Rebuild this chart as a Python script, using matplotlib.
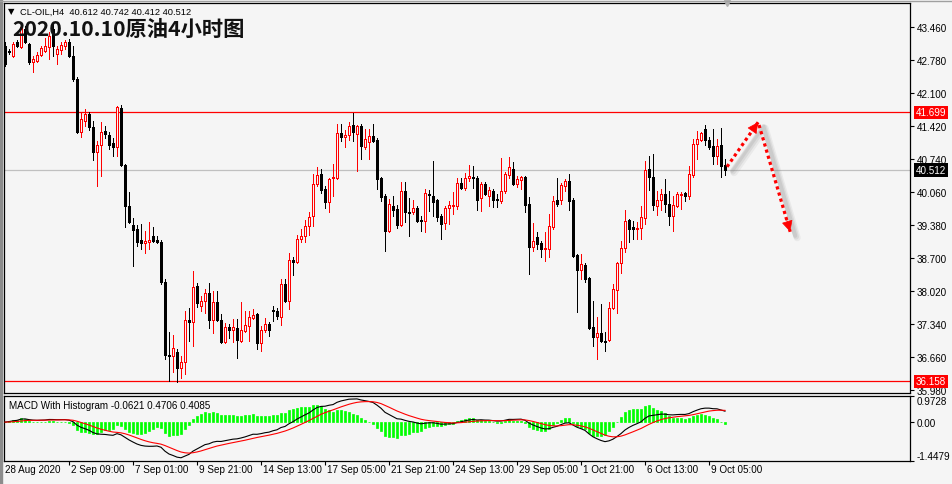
import matplotlib
matplotlib.use("Agg")
import matplotlib.pyplot as plt
import matplotlib.transforms as mtransforms
from matplotlib.patches import Rectangle
import numpy as np
import pandas as pd

# ---------------- data ----------------
opens = [43.07,42.97,42.86,43.15,43.05,43.42,43.11,42.74,42.76,42.88,42.97,43.05,43.42,42.90,42.99,43.07,43.15,42.86,42.39,41.30,
         41.52,41.67,41.40,40.89,41.03,41.32,41.23,41.07,40.99,41.79,40.62,39.77,39.38,39.30,39.07,39.01,39.03,39.15,39.07,39.03,
         38.21,36.70,36.68,36.76,36.43,36.56,37.42,37.38,38.12,37.71,37.81,37.98,37.42,37.79,37.42,36.97,37.28,37.22,37.26,36.99,
         37.20,37.30,37.46,37.55,36.95,37.22,37.34,37.63,37.61,37.48,38.16,37.81,38.66,38.62,39.09,39.15,39.36,39.57,40.23,40.43,
         40.12,39.85,40.35,40.35,41.28,41.19,41.23,41.44,41.26,41.42,40.99,41.09,41.21,41.13,40.35,39.98,39.26,39.77,39.71,39.38,
         40.08,39.65,39.65,39.73,39.48,39.46,40.02,39.98,39.90,39.57,39.42,39.73,39.77,39.77,40.25,40.14,40.35,40.37,40.35,39.94,
         40.23,39.98,40.08,39.92,39.87,40.08,40.41,40.53,40.23,40.31,40.37,39.81,38.93,39.13,39.01,38.89,38.89,39.34,39.90,39.90,
         40.18,40.29,39.90,38.76,38.45,38.56,38.29,37.28,37.07,37.16,36.99,37.01,37.67,38.04,38.60,38.91,39.48,39.34,39.30,39.32,
         39.52,40.53,40.37,39.77,39.90,40.02,39.81,39.57,39.77,40.00,40.04,39.98,40.41,41.05,41.13,41.36,41.13,41.01,40.80,41.03,
         40.612]
highs = [43.15,43.01,43.15,43.19,43.54,43.48,43.13,42.86,42.95,43.07,43.23,43.36,43.56,43.07,43.15,43.19,43.21,43.07,42.43,41.71,
         41.77,41.71,41.52,41.11,41.50,41.42,41.30,41.17,41.83,41.85,40.64,40.06,39.52,39.38,39.40,39.26,39.44,39.34,39.15,39.07,
         38.27,37.18,37.11,36.83,36.68,37.61,37.67,38.43,38.19,37.92,38.06,38.19,38.02,38.02,37.55,37.36,37.34,37.44,37.44,37.79,
         37.61,37.61,37.65,37.57,37.30,37.46,37.38,37.71,37.67,38.27,38.27,38.80,38.72,39.17,39.30,39.48,39.65,40.43,40.58,40.53,
         40.18,40.35,40.64,41.46,41.46,41.34,41.50,41.69,41.44,41.46,41.36,41.36,41.46,41.17,40.37,40.02,39.92,39.98,39.79,40.27,
         40.27,39.94,39.90,39.77,39.57,40.12,40.10,40.70,39.92,39.61,39.77,39.87,40.06,40.35,40.35,40.45,40.62,40.60,40.39,40.27,
         40.27,40.16,40.12,40.02,40.76,40.47,40.78,40.68,40.39,40.39,40.39,39.96,39.42,39.24,39.05,39.24,39.61,39.98,40.35,40.25,
         40.33,40.43,39.94,38.78,38.78,38.60,38.31,37.81,37.48,37.75,37.18,37.79,38.16,38.62,39.05,39.69,39.50,39.46,39.44,39.77,
         40.70,40.80,40.84,40.08,40.12,40.33,40.08,39.98,40.06,40.06,40.06,40.60,41.15,41.32,41.30,41.44,41.19,41.36,41.15,41.38,
         40.742]
lows = [42.66,42.90,42.84,43.05,43.03,43.13,42.70,42.53,42.74,42.86,42.95,42.80,42.86,42.70,42.90,43.01,42.84,42.35,41.28,41.19,
        41.42,41.34,40.72,40.18,40.39,41.17,40.95,40.80,40.80,40.60,39.34,39.42,38.54,38.95,38.89,38.80,38.89,39.03,39.01,38.16,
        36.62,36.16,36.35,36.15,36.23,36.31,36.99,36.89,37.69,37.61,37.57,37.26,37.16,37.40,36.95,36.95,37.05,36.97,36.64,36.97,
        37.18,36.99,37.44,36.83,36.78,37.18,37.09,37.40,37.44,37.32,37.79,37.65,38.35,38.60,39.03,39.03,39.17,39.36,40.18,40.04,
        39.73,39.65,39.98,40.33,41.11,40.99,41.13,41.11,40.49,40.74,40.95,40.74,41.09,40.12,39.87,38.84,39.24,39.57,39.32,39.36,
        39.44,39.15,39.61,39.44,39.26,39.24,39.67,39.57,39.46,39.09,39.30,39.40,39.61,39.71,40.12,40.10,40.29,40.14,39.69,39.67,
        40.00,39.77,39.75,39.75,39.83,40.04,40.35,40.21,40.16,40.12,39.65,38.37,38.84,38.89,38.72,38.64,38.72,39.30,39.77,39.81,
        40.08,39.69,38.72,37.59,38.27,38.21,37.24,36.89,36.62,36.97,36.78,36.99,37.65,37.57,38.39,38.82,39.03,39.09,39.09,39.09,
        39.40,40.10,39.69,39.59,39.69,39.65,39.38,39.26,39.75,39.71,39.87,39.92,40.37,40.74,41.11,41.03,40.95,40.64,40.64,40.37,
        40.412]
closes = [42.70,42.95,43.11,43.07,43.46,43.15,42.74,42.80,42.88,43.03,43.07,43.27,43.07,43.01,43.09,43.15,42.86,42.39,41.30,41.56,
          41.67,41.40,40.89,41.03,41.30,41.26,41.03,40.99,41.81,40.62,39.77,39.44,39.28,39.03,39.01,39.05,39.07,39.05,39.03,38.21,
          36.70,36.68,36.85,36.43,36.56,37.42,37.38,38.10,37.77,37.81,37.98,37.42,37.79,37.42,36.97,37.28,37.22,37.28,37.01,37.22,
          37.32,37.48,37.53,36.95,37.22,37.34,37.22,37.61,37.50,38.16,37.81,38.66,38.62,39.09,39.15,39.36,39.55,40.23,40.41,40.10,
          39.85,40.33,40.37,41.28,41.19,41.23,41.42,41.30,41.42,41.01,41.15,41.21,41.11,40.33,39.96,39.26,39.81,39.69,39.38,40.08,
          39.65,39.63,39.73,39.46,39.46,40.04,40.00,39.85,39.55,39.40,39.73,39.79,39.79,40.25,40.14,40.35,40.39,40.35,39.90,40.23,
          40.02,40.10,39.90,39.90,40.08,40.43,40.58,40.23,40.33,40.37,39.79,38.93,39.05,38.99,38.89,38.91,39.36,39.87,39.81,40.21,
          40.29,39.87,38.74,38.45,38.58,38.27,37.26,37.07,37.16,36.99,36.97,37.67,38.06,38.60,38.91,39.46,39.30,39.30,39.32,39.55,
          40.51,40.37,39.79,39.90,40.02,39.81,39.57,39.79,40.02,40.02,39.98,40.43,41.05,41.15,41.28,41.13,40.99,40.80,41.01,40.60,
          40.512]

price_ticks = [43.460, 42.780, 42.100, 41.420, 40.740, 40.060, 39.380, 38.700, 38.020, 37.340, 36.660, 35.980]
time_tick_bars = [0, 16, 32, 48, 64, 80, 96, 112, 128, 144, 160, 176]
time_labels = ["28 Aug 2020", "2 Sep 09:00", "7 Sep 01:00", "9 Sep 21:00", "14 Sep 13:00", "17 Sep 05:00",
               "21 Sep 21:00", "24 Sep 13:00", "29 Sep 05:00", "1 Oct 21:00", "6 Oct 13:00", "9 Oct 05:00"]
resistance = 41.699
support = 36.158
last_price = 40.512
macd_range = [-1.4479, 0.9728]
hist_scale = 2.0
macd_label = "MACD With Histogram -0.0621 0.4706 0.4085"
header = "CL-OIL,H4  40.612 40.742 40.412 40.512"
title = "2020.10.10原油4小时图"
# forecast arrow path: (bar, price)
arrow_bars = [180.5, 188.3, 196.3]
arrow_prices = [40.58, 41.50, 39.24]

# ---------------- figure ----------------
plt.rcParams['font.family'] = ['Liberation Sans', 'DejaVu Sans']
W, H = 953, 485
BG = '#F5F5F5'
FS = 7.1
fig = plt.figure(figsize=(W / 100, H / 100), dpi=100, facecolor=BG)

def fx(x):
    return x / W

def fy(y):
    return 1 - y / H

ax = fig.add_axes([fx(4), fy(394), fx(910) - fx(4), fy(4) - fy(394)])
ax2 = fig.add_axes([fx(4), fy(462), fx(910) - fx(4), fy(397) - fy(462)])
for a in (ax, ax2):
    a.set_facecolor(BG)
    for s in a.spines.values():
        s.set_color('black')
        s.set_linewidth(0.9)

n = len(closes)
idx = np.arange(n)
ax.set_xlim(-0.25, 226.25)
ax2.set_xlim(-0.25, 226.25)
ax.set_ylim(35.918, 43.955)

# horizontal lines
ax.axhline(resistance, color='#FF0000', lw=0.9, zorder=1)
ax.axhline(support, color='#FF0000', lw=0.9, zorder=1)
ax.axhline(last_price, color='#C0C0C0', lw=0.9, zorder=1)

# candles
bw = 0.5
for i in range(n):
    o, h, l, c = opens[i], highs[i], lows[i], closes[i]
    up = c > o
    col = '#FF0000' if up else '#000000'
    ax.vlines(i, l, h, color=col, lw=0.62, zorder=2, antialiased=False)
    bottom = min(o, c)
    height = max(abs(c - o), 0.012)
    ax.add_patch(Rectangle((i - bw / 2, bottom), bw, height,
                           facecolor=BG if up else '#000000', edgecolor=col,
                           lw=0.62, zorder=3, antialiased=False))

# right price axis
ax.yaxis.tick_right()
ax.set_yticks(price_ticks)
ax.set_yticklabels([f"{v:.3f}" for v in price_ticks])
ax.tick_params(axis='y', direction='out', length=3, width=0.8, pad=2, labelsize=FS, colors='black')
ax.set_xticks([])

# highlighted price labels
for val, fc in [(resistance, '#FF0000'), (last_price, '#000000'), (support, '#FF0000')]:
    ax.annotate(f"{val:.3f}", xy=(1, val), xycoords=('axes fraction', 'data'),
                xytext=(6, 0), textcoords='offset pixels', va='center', ha='left',
                color='white', fontsize=FS, zorder=10, annotation_clip=False,
                bbox=dict(boxstyle='square,pad=0.18', fc=fc, ec='none'))

# forecast arrows with soft shadow
for k, (dx, al) in enumerate([(7, 0.10), (6, 0.14), (5, 0.16)]):
    shadow = mtransforms.offset_copy(ax.transData, fig=fig, x=dx, y=-dx + 1, units='dots')
    ax.plot(arrow_bars, arrow_prices, color='#808080', lw=5 - k, alpha=al, transform=shadow,
            solid_capstyle='round', zorder=5, clip_on=False)
ax.plot(arrow_bars, arrow_prices, color='#FF0000', lw=2.3, linestyle=(0, (1, 1)),
        dash_capstyle='butt', zorder=6, clip_on=False)
for (x0, y0), (x1, y1) in [((arrow_bars[0], arrow_prices[0]), (arrow_bars[1], arrow_prices[1])),
                           ((arrow_bars[1], arrow_prices[1]), (arrow_bars[2], arrow_prices[2]))]:
    xa = x1 - (x1 - x0) * 0.12
    ya = y1 - (y1 - y0) * 0.12
    ax.annotate('', xy=(x1, y1), xytext=(xa, ya),
                arrowprops=dict(arrowstyle='-|>,head_length=0.7,head_width=0.35',
                                color='#FF0000', lw=0.5, shrinkA=0, shrinkB=0), zorder=7)

# small shift marker at top
ax.plot([180.5], [1.0], marker='v', color='#B0B0B0', markersize=5,
        transform=mtransforms.blended_transform_factory(ax.transData, ax.transAxes),
        clip_on=False, zorder=8)

# texts
fig.text(fx(8), fy(12), "▼", fontsize=6, va='center', ha='left', family=['DejaVu Sans'])
fig.text(fx(20), fy(12), header, fontsize=6.7, va='center', ha='left')
fig.text(fx(12), fy(29), title, fontsize=15.3, fontweight='bold', va='center', ha='left',
         family=['Noto Sans CJK SC', 'DejaVu Sans'], color='#111111', zorder=20)

# ---------------- MACD panel ----------------
s = pd.Series(closes)
macd = s.ewm(span=12, adjust=False).mean() - s.ewm(span=26, adjust=False).mean()
signal = macd.ewm(span=9, adjust=False).mean()
hist = (macd - signal) * hist_scale

ax2.set_ylim(macd_range[0], macd_range[1])
ax2.bar(idx, hist.values, width=0.55, color='#00FF00', edgecolor='#00FF00', lw=0.5, zorder=2)
ax2.plot(idx, macd.values, color='black', lw=0.8, zorder=3)
ax2.plot(idx, signal.values, color='#FF0000', lw=0.8, zorder=3)
ax2.yaxis.tick_right()
ax2.set_yticks([macd_range[1], 0.0, macd_range[0]])
ax2.set_yticklabels([f"{macd_range[1]:.4f}", "0.00", f"{macd_range[0]:.4f}"])
ax2.tick_params(axis='y', direction='out', length=3, width=0.8, pad=2, labelsize=FS)
labs = ax2.get_yticklabels()
labs[0].set_va('top')
labs[2].set_va('bottom')
ax2.set_xticks(time_tick_bars[1:])
ax2.set_xticklabels([])
ax2.tick_params(axis='x', direction='out', length=3, width=0.8)
ax2.text(0.006, 0.86, macd_label, transform=ax2.transAxes, fontsize=FS, va='center', ha='left')

for b, lab in zip(time_tick_bars, time_labels):
    ax2.annotate(lab, xy=(b, 0), xycoords=('data', 'axes fraction'), xytext=(2 if b else 0, -8),
                 textcoords='offset pixels', va='center', ha='left', fontsize=FS,
                 annotation_clip=False)

# window frame bits
fig.add_artist(Rectangle((0, 0), fx(2.5), 1, transform=fig.transFigure, color='#8C8C8C', zorder=0))
fig.add_artist(plt.Line2D([0, 1], [fy(1.5), fy(1.5)], transform=fig.transFigure, color='#A0A0A0', lw=1))

fig.savefig("out.png", dpi=100, facecolor=BG)
